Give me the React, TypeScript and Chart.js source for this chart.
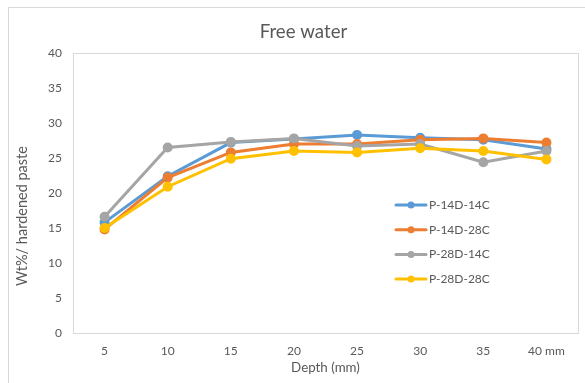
import React, { useEffect, useRef } from "react";
import { Chart, registerables } from "chart.js";

Chart.register(...registerables);

// Depth categories (mm) along the x axis
const depthLabels = ["5", "10", "15", "20", "25", "30", "35", "40 mm"];

// Free water content, Wt% of hardened paste
const p14d14c = [15.8, 22.4, 27.2, 27.7, 28.3, 27.9, 27.6, 26.3];
const p14d28c = [14.8, 22.2, 25.8, 27.0, 27.0, 27.6, 27.8, 27.2];
const p28d14c = [16.6, 26.5, 27.3, 27.8, 26.7, 27.0, 24.4, 26.0];
const p28d28c = [15.0, 20.9, 24.9, 26.0, 25.8, 26.4, 26.0, 24.8];

const seriesNames = ["P-14D-14C", "P-14D-28C", "P-28D-14C", "P-28D-28C"];
const seriesValues = [p14d14c, p14d28c, p28d14c, p28d28c];
const seriesColors = ["#5B9BD5", "#ED7D31", "#A5A5A5", "#FFC000"];

const yTicks = { min: 0, max: 40, step: 5 };

const FONT = "Lato, 'Open Sans', 'DejaVu Sans', sans-serif";
const TEXT = "#595959";
const FRAME = "#D9D9D9";

// Outer frame, plot box, title, rotated y title and inset legend
const decorations = {
  id: "decorations",
  beforeDraw(chart: any) {
    const { ctx, chartArea } = chart;
    ctx.save();
    ctx.fillStyle = "#ffffff";
    ctx.fillRect(0, 0, chart.width, chart.height);
    ctx.strokeStyle = FRAME;
    ctx.lineWidth = 1;
    ctx.strokeRect(8.5, 7.5, chart.width + 20, chart.height + 20);
    ctx.strokeRect(
      Math.round(chartArea.left) + 0.5,
      Math.round(chartArea.top) + 0.5,
      Math.round(chartArea.right - chartArea.left),
      Math.round(chartArea.bottom - chartArea.top)
    );
    ctx.restore();
  },
  afterDraw(chart: any) {
    const { ctx, chartArea } = chart;
    ctx.save();
    // chart title
    ctx.fillStyle = TEXT;
    ctx.font = `18.67px ${FONT}`;
    ctx.textAlign = "center";
    ctx.textBaseline = "middle";
    ctx.fillText("Free water", (chartArea.left + chartArea.right) / 2 - 22, chartArea.top - 21);

    // y axis title
    ctx.save();
    ctx.translate(chartArea.left - 51, (chartArea.top + chartArea.bottom) / 2 + 23);
    ctx.rotate(-Math.PI / 2);
    ctx.font = `14.5px ${FONT}`;
    ctx.fillText("Wt%/ hardened paste", 0, 0);
    ctx.restore();

    // legend inside the plot box
    const x0 = chartArea.left + 323;
    const y0 = chartArea.top + 152;
    seriesNames.forEach((name, i) => {
      const y = y0 + i * 24.7;
      ctx.strokeStyle = seriesColors[i];
      ctx.lineWidth = 3;
      ctx.lineCap = "round";
      ctx.beginPath();
      ctx.moveTo(x0, y);
      ctx.lineTo(x0 + 30, y);
      ctx.stroke();
      ctx.fillStyle = seriesColors[i];
      ctx.beginPath();
      ctx.arc(x0 + 15, y, 3.5, 0, Math.PI * 2);
      ctx.fill();
      ctx.fillStyle = TEXT;
      ctx.font = `12px ${FONT}`;
      ctx.textAlign = "left";
      ctx.fillText(name, x0 + 33, y);
    });
    ctx.restore();
  },
};

export default function App() {
  const canvasRef = useRef<HTMLCanvasElement>(null);

  useEffect(() => {
    const canvas = canvasRef.current;
    if (!canvas) return;
    const chart = new Chart(canvas, {
      type: "line",
      data: {
        labels: depthLabels,
        datasets: seriesValues.map((values, i) => ({
          label: seriesNames[i],
          data: values,
          borderColor: seriesColors[i],
          backgroundColor: seriesColors[i],
          pointBackgroundColor: seriesColors[i],
          pointBorderColor: seriesColors[i],
          borderWidth: 3,
          pointRadius: 3.5,
          tension: 0,
          order: seriesValues.length - i,
        })),
      },
      options: {
        animation: false,
        responsive: false,
        maintainAspectRatio: false,
        layout: { padding: { left: 33, top: 53, right: 5, bottom: 0 } },
        plugins: {
          legend: { display: false },
          title: { display: false },
          tooltip: { enabled: false },
        },
        scales: {
          x: {
            offset: true,
            grid: { display: false, drawTicks: false },
            border: { display: false },
            ticks: {
              color: TEXT,
              font: { family: FONT, size: 12 },
              padding: 11,
              maxRotation: 0,
            },
            title: {
              display: true,
              text: "Depth (mm)",
              color: TEXT,
              font: { family: FONT, size: 13.33 },
              padding: { top: 1, bottom: 7 },
            },
            afterFit: (scale: any) => {
              scale.height = 50;
            },
          },
          y: {
            min: yTicks.min,
            max: yTicks.max,
            grid: { display: false, drawTicks: false },
            border: { display: false },
            ticks: {
              stepSize: yTicks.step,
              color: TEXT,
              font: { family: FONT, size: 12 },
              padding: 11,
            },
            afterFit: (scale: any) => {
              scale.width = 40;
            },
          },
        },
      },
      plugins: [decorations],
    });
    return () => chart.destroy();
  }, []);

  return (
    <div style={{ position: "fixed", left: 0, top: 0, width: 585, height: 383, background: "#fff" }}>
      <canvas ref={canvasRef} width={585} height={383} style={{ display: "block" }} />
    </div>
  );
}
